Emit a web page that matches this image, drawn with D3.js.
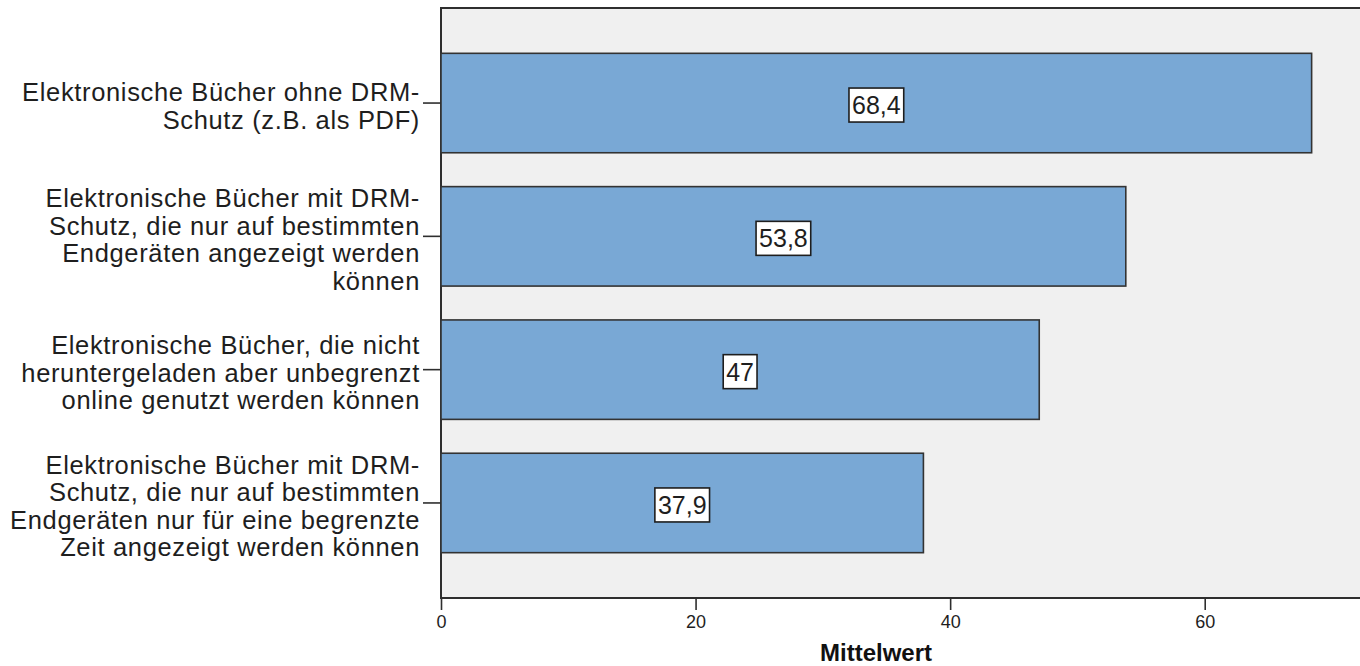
<!DOCTYPE html>
<html>
<head>
<meta charset="utf-8">
<script src="https://cdn.jsdelivr.net/npm/d3@7"></script>
<style>
  body { margin: 0; background: #ffffff; }
  svg { display: block; }
</style>
</head>
<body>
<svg id="chart" width="1360" height="666"></svg>
<script>
// Category labels, one array of wrapped lines per bar
const categories = [
  ["Elektronische Bücher ohne DRM-", "Schutz (z.B. als PDF)"],
  ["Elektronische Bücher mit DRM-", "Schutz, die nur auf bestimmten", "Endgeräten angezeigt werden", "können"],
  ["Elektronische Bücher, die nicht", "heruntergeladen aber unbegrenzt", "online genutzt werden können"],
  ["Elektronische Bücher mit DRM-", "Schutz, die nur auf bestimmten", "Endgeräten nur für eine begrenzte", "Zeit angezeigt werden können"]
];
// Mean values per category
const values = [68.4, 53.8, 47, 37.9];
// Axis ticks and title
const xTicks = [0, 20, 40, 60];
const axisTitle = "Mittelwert";

const plot = { left: 441, top: 8, bottom: 598, right: 1366 };
const labelFont = "'Liberation Sans', Arial, sans-serif";

const svg = d3.select("#chart");

const de = d3.formatLocale({ decimal: ",", thousands: ".", grouping: [3], currency: ["", " €"] });
const fmt = v => de.format(",")(v);

const x = d3.scaleLinear().domain([0, 72.2]).range([plot.left, 1360]);
const y = d3.scaleBand()
  .domain(d3.range(categories.length))
  .range([plot.top, plot.bottom])
  .paddingInner(0.254)
  .paddingOuter(0.34);

// Plot background and frame
svg.append("rect")
  .attr("x", plot.left).attr("y", plot.top)
  .attr("width", plot.right - plot.left).attr("height", plot.bottom - plot.top)
  .attr("fill", "#f0f0f0")
  .attr("stroke", "#2e2e2e").attr("stroke-width", 2);

// Bars
svg.append("g").selectAll("rect")
  .data(values)
  .join("rect")
  .attr("x", x(0))
  .attr("y", (d, i) => y(i))
  .attr("width", d => x(d) - x(0))
  .attr("height", y.bandwidth())
  .attr("fill", "#79a8d5")
  .attr("stroke", "#333333")
  .attr("stroke-width", 1.6);

// Category tick marks on the left edge
svg.append("g").selectAll("line")
  .data(values)
  .join("line")
  .attr("x1", plot.left - 18).attr("x2", plot.left)
  .attr("y1", (d, i) => y(i) + y.bandwidth() / 2)
  .attr("y2", (d, i) => y(i) + y.bandwidth() / 2)
  .attr("stroke", "#2e2e2e").attr("stroke-width", 1.6);

// Category labels, right-aligned next to the ticks
const lineH = 27.5, capH = 18.3, catSize = 25.5;
svg.append("g").selectAll("text")
  .data(categories)
  .join("text")
  .attr("text-anchor", "end")
  .attr("font-family", labelFont)
  .attr("font-size", catSize)
  .attr("letter-spacing", 0.65)
  .attr("fill", "#1e1e1e")
  .each(function (lines, i) {
    const cy = y(i) + y.bandwidth() / 2;
    const base0 = cy + 3 - ((lines.length - 1) * lineH - capH) / 2;
    d3.select(this).selectAll("tspan")
      .data(lines)
      .join("tspan")
      .attr("x", 420)
      .attr("y", (l, k) => base0 + k * lineH)
      .text(l => l);
  });

// Value labels in white boxes at the middle of each bar
const vl = svg.append("g").selectAll("g")
  .data(values)
  .join("g")
  .attr("transform", (d, i) => `translate(${x(d / 2)},${y(i) + y.bandwidth() / 2 + 2})`);

vl.append("rect").attr("fill", "#ffffff").attr("stroke", "#1e1e1e").attr("stroke-width", 1.6);
vl.append("text")
  .attr("text-anchor", "middle")
  .attr("dy", "0.36em")
  .attr("font-family", labelFont)
  .attr("font-size", 25)
  .attr("fill", "#1e1e1e")
  .text(d => fmt(d));
vl.each(function () {
  const g = d3.select(this);
  const bb = g.select("text").node().getBBox();
  g.select("rect")
    .attr("x", bb.x - 3).attr("width", bb.width + 6)
    .attr("y", -17).attr("height", 34);
});

// Bottom axis
const xAxis = d3.axisBottom(x).tickValues(xTicks).tickSize(12).tickPadding(5).tickFormat(d => fmt(d));
const ax = svg.append("g").attr("transform", `translate(0,${plot.bottom})`).call(xAxis);
ax.select(".domain").remove();
ax.selectAll(".tick line").attr("stroke", "#2e2e2e").attr("stroke-width", 1.6);
ax.selectAll(".tick text")
  .attr("font-family", labelFont)
  .attr("font-size", 18)
  .attr("fill", "#1e1e1e");

// Axis title
svg.append("text")
  .attr("x", 876).attr("y", 661)
  .attr("text-anchor", "middle")
  .attr("font-family", labelFont)
  .attr("font-weight", "bold")
  .attr("font-size", 24)
  .attr("fill", "#111111")
  .text(axisTitle);
</script>
</body>
</html>
